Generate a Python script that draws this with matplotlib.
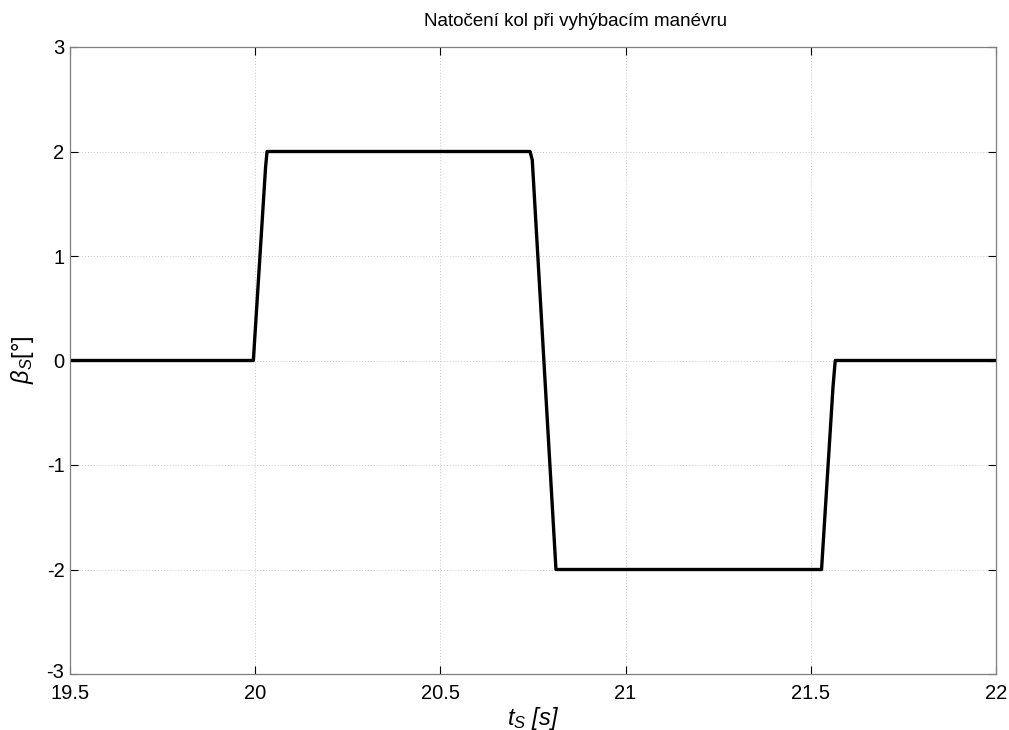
import matplotlib
matplotlib.use("Agg")
import matplotlib.pyplot as plt
from matplotlib.transforms import ScaledTranslation

plt.rcParams['font.family'] = ['Liberation Sans', 'DejaVu Sans']
plt.rcParams['mathtext.fontset'] = 'custom'
plt.rcParams['mathtext.rm'] = 'Liberation Sans'
plt.rcParams['mathtext.it'] = 'Liberation Sans:italic'

# steering angle profile of the avoidance manoeuvre
t = [19.5, 19.995, 20.028, 20.032, 20.742, 20.748, 20.812, 21.529, 21.560, 21.566, 22.0]
beta = [0.0, 0.0, 1.85, 2.0, 2.0, 1.92, -2.0, -2.0, -0.25, 0.0, 0.0]

xticks = [19.5, 20, 20.5, 21, 21.5, 22]
xticklabels = ["19.5", "20", "20.5", "21", "21.5", "22"]
yticks = [-3, -2, -1, 0, 1, 2, 3]
yticklabels = ["-3", "-2", "-1", "0", "1", "2", "3"]

W, H = 1009, 730
fig = plt.figure(figsize=(W / 100, H / 100), dpi=100)
ax = fig.add_axes([70 / W, 1 - 674 / H, 926 / W, 627 / H])

ax.plot(t, beta, color="black", linewidth=2.4, solid_joinstyle="round")

ax.set_xlim(19.5, 22)
ax.set_ylim(-3, 3)
ax.set_xticks(xticks)
ax.set_xticklabels(xticklabels)
ax.set_yticks(yticks)
ax.set_yticklabels(yticklabels)
ax.tick_params(direction="in", top=True, right=True, length=6, width=0.8,
               labelsize=14.5, colors="black", pad=4)
ax.tick_params(axis="x", pad=7)
for s in ax.spines.values():
    s.set_color("#7f7f7f")
    s.set_linewidth(0.9)

# nudge the lowest y label up so it clears the first x label
lowest = ax.get_yticklabels()[0]
lowest.set_transform(lowest.get_transform() +
                     ScaledTranslation(0, 4 / 100, fig.dpi_scale_trans))

ax.grid(True, linestyle=(0, (1, 2)), color="#c8c8c8", linewidth=0.7)

fig.text(576 / W, 1 - 22 / H, "Natočení kol při vyhýbacím manévru",
         fontsize=13.5, ha="center", va="center")
fig.text(533 / W, 1 - 718 / H, r"$t_S$ [s]", fontsize=17, style="italic",
         ha="center", va="center")
fig.text(22 / W, 1 - 360 / H, r"$\beta_S$[°]", fontsize=17, rotation=90,
         ha="center", va="center")

fig.savefig("out.png", dpi=100)
